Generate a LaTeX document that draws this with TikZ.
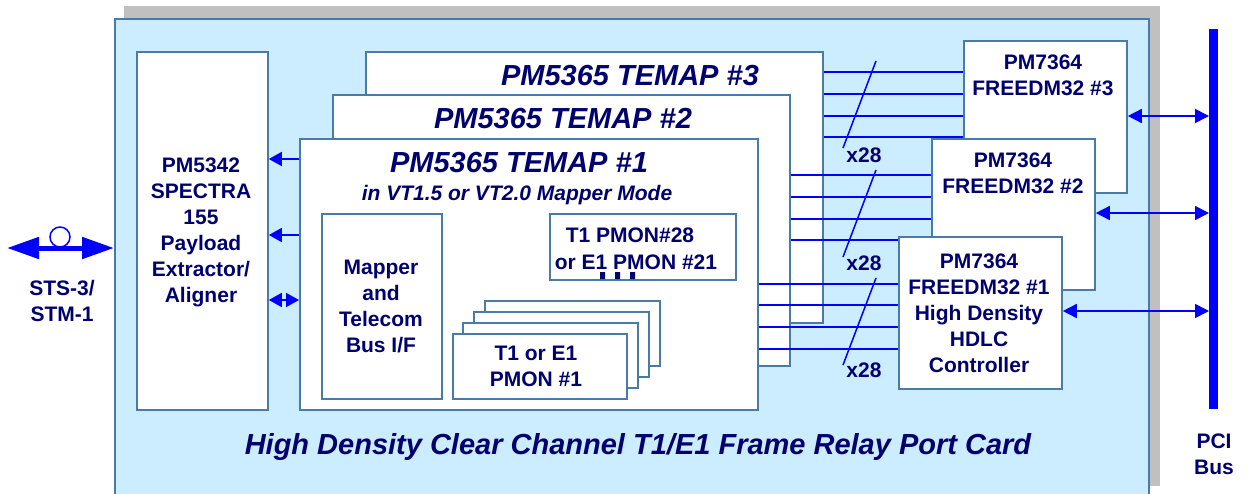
\documentclass[tikz,border=0pt]{standalone}
\usepackage{fontspec}
\setmainfont{Liberation Sans}
\usetikzlibrary{arrows.meta}
\definecolor{cardfill}{RGB}{204,236,255}
\definecolor{shadowgray}{RGB}{192,192,192}
\definecolor{boxline}{RGB}{74,122,168}
\definecolor{navy}{RGB}{0,0,110}
\definecolor{wireblue}{RGB}{0,0,255}
\begin{document}
\begin{tikzpicture}[x=1pt,y=-1pt,
  chip/.style={draw=boxline,line width=1.8pt,fill=white,inner sep=0pt,anchor=north west},
  lbl/.style={text=navy,font=\fontsize{21}{26}\selectfont\bfseries,align=center,inner sep=0pt},
  ttl/.style={text=navy,font=\fontsize{29}{34}\selectfont\bfseries\itshape,inner sep=0pt},
  sub/.style={text=navy,font=\fontsize{21}{26}\selectfont\bfseries\itshape,inner sep=0pt},
  wire/.style={draw=wireblue,line width=1.6pt},
  onetip/.style={wire,-{Triangle[length=13pt,width=14pt]}},
  twotip/.style={wire,{Triangle[length=14pt,width=14pt]}-{Triangle[length=14pt,width=14pt]}},
  bigtip/.style={draw=wireblue,line width=5pt,{Triangle[length=32pt,width=21pt]}-{Triangle[length=32pt,width=21pt]}}
]
\useasboundingbox (0,0) rectangle (1251,493);
% card and shadow
\node[anchor=north west,fill=shadowgray,inner sep=0pt,minimum width=1036pt,minimum height=480pt] (shadow) at (124,6) {};
\node[anchor=north west,fill=cardfill,draw=boxline,line width=1.5pt,inner sep=0pt,minimum width=1034pt,minimum height=482pt] (card) at (114,18) {};
% SPECTRA
\node[chip,minimum width=131pt,minimum height=358pt] (sp) at (136,51) {};
\node[lbl] (sptext) at (201,232) {PM5342\\SPECTRA\\155\\Payload\\Extractor/\\Aligner};
% TEMAP stack
\node[chip,minimum width=457pt,minimum height=271pt] (t3) at (365,51) {};
\node[ttl] (t3title) at (630,76) {PM5365 TEMAP \#3};
\node[chip,minimum width=457pt,minimum height=271pt] (t2) at (332,94) {};
\node[ttl] (t2title) at (563,119) {PM5365 TEMAP \#2};
\node[chip,minimum width=458pt,minimum height=271pt] (t1) at (299,138) {};
\node[ttl] (t1title) at (519,163) {PM5365 TEMAP \#1};
\node[sub] (t1sub) at (517,195) {in VT1.5 or VT2.0 Mapper Mode};
% inside TEMAP #1
\node[chip,minimum width=120pt,minimum height=185pt] (map) at (321,213) {};
\node[lbl] (maptext) at (381,306) {Mapper\\and\\Telecom\\Bus I/F};
\node[chip,minimum width=186pt,minimum height=66pt] (p28) at (549,213) {};
\node[lbl] (p28a) at (630,235) {T1 PMON\#28};
\node[lbl] (p28b) at (636,262) {or E1 PMON \#21};
\fill[navy] (600,272) rectangle (605,279) (615,272) rectangle (620,279) (630,272) rectangle (635,279);
\node[chip,minimum width=175pt,minimum height=65pt] (pm3) at (484,300) {};
\node[chip,minimum width=175pt,minimum height=65pt] (pm2) at (473,311) {};
\node[chip,minimum width=175pt,minimum height=65pt] (pm1) at (462,322) {};
\node[chip,minimum width=174pt,minimum height=65pt] (pm0) at (452,333) {};
\node[lbl] (pmtext) at (536,366) {T1 or E1\\PMON \#1};
% SPECTRA <-> TEMAP arrows
\draw[onetip] (t1.west |- 0,159) -- (sp.east |- 0,159);
\draw[onetip] (t1.west |- 0,235) -- (sp.east |- 0,235);
\draw[wire,{Triangle[length=13pt,width=14pt]}-{Triangle[length=13pt,width=14pt]}] (t1.west |- 0,300) -- (sp.east |- 0,300);
% FREEDM boxes (placed first so the wires can refer to them)
\node[chip,minimum width=163pt,minimum height=152pt] (f3) at (963,40) {};
% wires TEMAP -> FREEDM
\foreach \yy in {72,94,116,137} \draw[wire] (t3.east |- 0,\yy) -- (f3.west |- 0,\yy);
\node[chip,minimum width=163pt,minimum height=151pt] (f2) at (931,138) {};
\foreach \yy in {175,197,219,240} \draw[wire] (t2.east |- 0,\yy) -- (f2.west |- 0,\yy);
\node[chip,minimum width=163pt,minimum height=152pt] (f1) at (898,236) {};
\foreach \yy in {284,305,327,349} \draw[wire] (t1.east |- 0,\yy) -- (f1.west |- 0,\yy);
\node[lbl] (f3text) at (1043,75) {PM7364\\FREEDM32 \#3};
\node[lbl] (f2text) at (1013,173) {PM7364\\FREEDM32 \#2};
\node[lbl] (f1text) at (979,313) {PM7364\\FREEDM32 \#1\\High Density\\HDLC\\Controller};
% bus-width marks
\draw[wire,line width=1.5pt] (876,61) -- (843,148);
\draw[wire,line width=1.5pt] (876,170) -- (843,257);
\draw[wire,line width=1.5pt] (876,278) -- (843,365);
\node[lbl] (x28a) at (864,155) {x28};
\node[lbl] (x28b) at (864,263) {x28};
\node[lbl] (x28c) at (864,370) {x28};
% PCI bus
\node[anchor=north west,fill=wireblue,inner sep=0pt,minimum width=9pt,minimum height=380pt] (pci) at (1209,29) {};
\node[lbl] (pcitext) at (1214,454) {PCI\\Bus};
\draw[twotip] (f3.east |- 0,116) -- (pci.west |- 0,116);
\draw[twotip] (f2.east |- 0,213) -- (pci.west |- 0,213);
\draw[twotip] (f1.east |- 0,311) -- (pci.west |- 0,311);
% line interface
\coordinate (stsend) at (7,248);
\draw[draw=wireblue,line width=1.5pt] (60,237) circle[radius=10pt];
\draw[bigtip] (stsend) -- (card.west |- stsend);
\node[lbl] (ststext) at (62,301) {STS-3/\\STM-1};
% bottom title
\node[ttl] (cardtitle) at (638,447) {High Density Clear Channel T1/E1 Frame Relay Port Card};
\end{tikzpicture}
\end{document}
